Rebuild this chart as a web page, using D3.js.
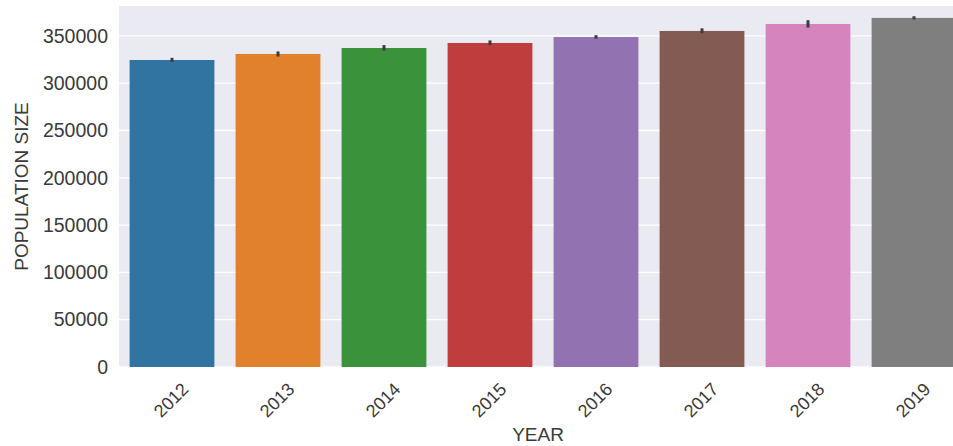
<!DOCTYPE html>
<html>
<head>
<meta charset="utf-8">
<script src="https://cdn.jsdelivr.net/npm/d3@7"></script>
<style>
  html, body { margin: 0; padding: 0; background: #ffffff; }
  svg { display: block; }
  text { font-family: "Liberation Sans", Arial, sans-serif; }
</style>
</head>
<body>
<svg id="chart" width="953" height="446"></svg>
<script>
// ---- data ----
const years = ["2012", "2013", "2014", "2015", "2016", "2017", "2018", "2019"];
const population = [324500, 330900, 337200, 342500, 348800, 355200, 362600, 369000];
const errLow = [322500, 328200, 334500, 340300, 347000, 352800, 358800, 367400];
const errHigh = [326800, 333600, 340300, 345200, 350800, 358000, 366600, 370800];
const yTicks = [0, 50000, 100000, 150000, 200000, 250000, 300000, 350000];
const colors = ["#3274a1", "#e1812c", "#3a923a", "#c03d3e", "#9372b2", "#845b53", "#d684bd", "#7f7f7f"];
const yMaxValue = 381600;
const xLabel = "YEAR";
const yLabel = "POPULATION SIZE";

// ---- layout ----
const svg = d3.select("#chart");
const plot = { left: 119, top: 6, right: 967, bottom: 367 };

const x = d3.scaleBand()
  .domain(years)
  .range([plot.left, plot.right])
  .paddingInner(0.2)
  .paddingOuter(0.1);

const y = d3.scaleLinear()
  .domain([0, yMaxValue])
  .range([plot.bottom, plot.top]);

// background
svg.append("rect")
  .attr("x", plot.left).attr("y", plot.top)
  .attr("width", plot.right - plot.left)
  .attr("height", plot.bottom - plot.top)
  .attr("fill", "#eaeaf2");

// grid lines
svg.append("g").selectAll("line")
  .data(yTicks)
  .join("line")
  .attr("x1", plot.left).attr("x2", plot.right)
  .attr("y1", d => y(d)).attr("y2", d => y(d))
  .attr("stroke", "#ffffff")
  .attr("stroke-width", 1.3);

// bars
svg.append("g").selectAll("rect")
  .data(years)
  .join("rect")
  .attr("x", d => x(d))
  .attr("width", x.bandwidth())
  .attr("y", (d, i) => y(population[i]))
  .attr("height", (d, i) => y(0) - y(population[i]))
  .attr("fill", (d, i) => colors[i]);

// error bars
svg.append("g").selectAll("line")
  .data(years)
  .join("line")
  .attr("x1", d => x(d) + x.bandwidth() / 2)
  .attr("x2", d => x(d) + x.bandwidth() / 2)
  .attr("y1", (d, i) => y(errLow[i]))
  .attr("y2", (d, i) => y(errHigh[i]))
  .attr("stroke", "#3d3d3d")
  .attr("stroke-width", 3);

// y axis tick labels
const yAxis = d3.axisLeft(y).tickValues(yTicks).tickSize(0).tickPadding(11).tickFormat(d3.format("d"));
const gy = svg.append("g").attr("transform", `translate(${plot.left},0)`).call(yAxis);
gy.select(".domain").remove();
gy.selectAll("text")
  .attr("font-family", "Liberation Sans, Arial, sans-serif")
  .attr("font-size", 19.5)
  .attr("fill", "#3a3a3a");

// x axis tick labels (rotated)
const xAxis = d3.axisBottom(x).tickSize(0).tickPadding(0);
const gx = svg.append("g").attr("transform", `translate(0,${plot.bottom})`).call(xAxis);
gx.select(".domain").remove();
gx.selectAll("text")
  .attr("font-family", "Liberation Sans, Arial, sans-serif")
  .attr("font-size", 18)
  .attr("fill", "#3a3a3a")
  .attr("y", 0).attr("dy", "0.35em")
  .attr("text-anchor", "middle")
  .attr("transform", "translate(-1,33) rotate(-45)");

// axis labels
svg.append("text")
  .attr("x", (plot.left + plot.right) / 2 - 5)
  .attr("y", 441)
  .attr("text-anchor", "middle")
  .attr("font-size", 19)
  .attr("fill", "#3a3a3a")
  .text(xLabel);

svg.append("text")
  .attr("transform", `translate(28,${(plot.top + plot.bottom) / 2}) rotate(-90)`)
  .attr("text-anchor", "middle")
  .attr("font-size", 19)
  .attr("fill", "#3a3a3a")
  .text(yLabel);
</script>
</body>
</html>
